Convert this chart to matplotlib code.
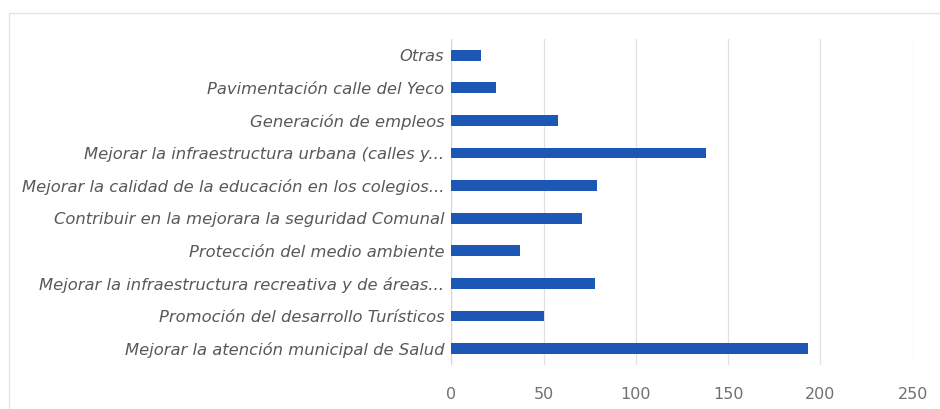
import matplotlib

matplotlib.use("Agg")
import matplotlib.pyplot as plt
from matplotlib.patches import Rectangle

# Categories listed bottom -> top, as barh draws them
categories = [
    "Mejorar la atención municipal de Salud",
    "Promoción del desarrollo Turísticos",
    "Mejorar la infraestructura recreativa y de áreas...",
    "Protección del medio ambiente",
    "Contribuir en la mejorara la seguridad Comunal",
    "Mejorar la calidad de la educación en los colegios...",
    "Mejorar la infraestructura urbana (calles y...",
    "Generación de empleos",
    "Pavimentación calle del Yeco",
    "Otras",
]
values = [193, 50, 78, 37, 71, 79, 138, 58, 24, 16]
x_ticks = [0, 50, 100, 150, 200, 250]

fig = plt.figure(figsize=(9.4, 4.09), dpi=100)
ax = fig.add_axes([0.480, 0.108, 0.491, 0.797])

# faint outer chart frame (right and bottom edges run off the picture)
fig.patches.append(Rectangle((0.010, -0.05), 1.05, 1.018, transform=fig.transFigure,
                             fill=False, edgecolor="#e4e4ec", linewidth=1.0))

ax.barh(range(len(categories)), values, height=0.33, color="#1d57b5", zorder=3)

ax.set_xlim(0, 250)
ax.set_ylim(-0.5, len(categories) - 0.5)
ax.set_xticks(x_ticks)
ax.set_xticklabels([str(t) for t in x_ticks], fontsize=11.5, color="#707070",
                   family="DejaVu Sans")
ax.set_yticks(range(len(categories)))
ax.set_yticklabels(categories, fontsize=11.8, color="#585858", style="italic",
                   family="DejaVu Sans")
ax.tick_params(axis="both", length=0)
ax.tick_params(axis="x", pad=16)
ax.tick_params(axis="y", pad=5)

ax.grid(axis="x", color="#e0e0e8", linewidth=0.9, zorder=0)
for side in ax.spines.values():
    side.set_visible(False)
ax.axvline(0, color="#d4d4dc", linewidth=0.9, zorder=2)

fig.savefig("out.png", dpi=100)
